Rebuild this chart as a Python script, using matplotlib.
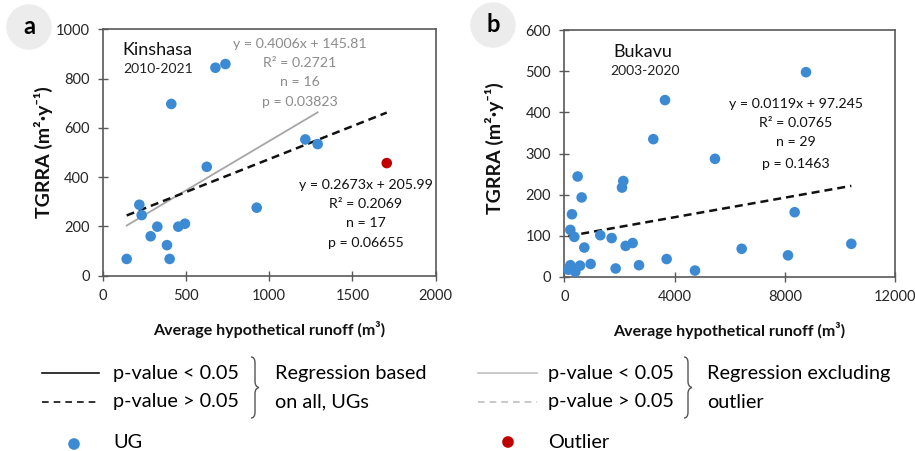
import matplotlib
matplotlib.use("Agg")
import matplotlib.pyplot as plt
from matplotlib.path import Path
from matplotlib.patches import PathPatch, Circle
import numpy as np

plt.rcParams['font.family'] = ['Lato', 'DejaVu Sans']

# ---------------- data ----------------
# Kinshasa (2010-2021): UG points
kin_x = [144, 220, 234, 288, 328, 386, 402, 412, 454, 494, 625, 677, 737, 925, 1217, 1291]
kin_y = [68, 288, 246, 160, 199, 124, 68, 697, 199, 211, 442, 844, 859, 276, 553, 534]
# Kinshasa outlier
kin_out_x = [1706]
kin_out_y = [457]
# regressions (slope, intercept) as labelled
kin_all_fit = (0.2673, 205.99)     # all points, p > 0.05
kin_excl_fit = (0.4006, 145.81)    # excluding outlier, p < 0.05

# Bukavu (2003-2020)
buk_x = [8770, 3653, 3230, 5468, 484, 2141, 2093, 629, 278, 8359, 218, 363, 1306, 1718,
         2226, 2480, 726, 6436, 10415, 8117, 3714, 956, 2710, 1863, 4742,
         150, 220, 400, 570]
buk_y = [498, 430, 335, 287, 244, 233, 217, 193, 152, 157, 114, 97, 101, 94,
         75, 82, 71, 68, 80, 52, 43, 31, 28, 20, 15,
         17, 28, 12, 27]
buk_fit = (0.0119, 97.245)

kin_ticks_x = [0, 500, 1000, 1500, 2000]
kin_ticks_y = [0, 200, 400, 600, 800, 1000]
buk_ticks_x = [0, 4000, 8000, 12000]
buk_ticks_y = [0, 100, 200, 300, 400, 500, 600]

BLUE = '#3b8ad3'
RED = '#c00000'
GRAY = '#a6a6a6'
TXTGRAY = '#8c8c8c'
SPINE = '#595959'
TICKC = '#262626'

W, H = 915, 451
fig = plt.figure(figsize=(W / 100, H / 100), dpi=100)

def px_axes(l, r, t, b):
    return fig.add_axes([l / W, 1 - b / H, (r - l) / W, (b - t) / H])

axa = px_axes(102.7, 435.7, 29.3, 275.7)
axb = px_axes(564.3, 895.0, 30.3, 276.7)

def style(ax, xt, yt):
    ax.set_xlim(xt[0], xt[-1])
    ax.set_ylim(yt[0], yt[-1])
    ax.set_xticks(xt)
    ax.set_yticks(yt)
    for s in ax.spines.values():
        s.set_color(SPINE)
        s.set_linewidth(1.2)
    ax.tick_params(direction='inout', length=7, width=1.0, color=SPINE,
                   labelsize=10.5, labelcolor=TICKC)
    ax.tick_params(axis='x', pad=6)
    ax.tick_params(axis='y', pad=6)
    ax.set_xlabel('Average hypothetical runoff (m³)', fontsize=11.5, fontweight='bold',
                  color='#111111')
    ax.set_ylabel('TGRRA (m²·y⁻¹)', fontsize=14, fontweight='bold', color='#111111')

style(axa, kin_ticks_x, kin_ticks_y)
style(axb, buk_ticks_x, buk_ticks_y)
axa.xaxis.set_label_coords(0.5, -0.22)
axb.xaxis.set_label_coords(0.5, -0.22)
axa.xaxis.label.set_va('center')
axb.xaxis.label.set_va('center')
axa.yaxis.set_label_coords(-0.179, 0.5)
axb.yaxis.set_label_coords(-0.21, 0.52)
axa.yaxis.label.set_va('center')
axb.yaxis.label.set_va('center')

MS = 58

# ---- panel a ----
all_x = kin_x + kin_out_x
xs = np.array([min(all_x), max(all_x)])
axa.plot(xs, kin_all_fit[0] * xs + kin_all_fit[1], color='#111111', lw=1.8,
         dashes=(3.2, 2.0), zorder=3)
xs2 = np.array([min(kin_x), max(kin_x)])
axa.plot(xs2, kin_excl_fit[0] * xs2 + kin_excl_fit[1], color=GRAY, lw=1.3, zorder=2)
axa.scatter(kin_x, kin_y, s=MS, color=BLUE, edgecolors='none', zorder=4)
axa.scatter(kin_out_x, kin_out_y, s=MS, color=RED, edgecolors='none', zorder=4)

def px_text(x, y, s, **kw):
    # x, y in figure pixels
    fig.text(x / W, 1 - y / H, s, **kw)

EQ = 10.2
px_text(122, 50, 'Kinshasa', fontsize=13, ha='left', va='center', color='#111111')
px_text(123, 69, '2010-2021', fontsize=10, ha='left', va='center', color='#222222')
for i, s in enumerate(['y = 0.4006x + 145.81', 'R² = 0.2721', 'n = 16', 'p = 0.03823']):
    px_text(300, [44, 63, 82, 102][i], s, fontsize=EQ, ha='center', va='center',
            color=TXTGRAY)
for i, s in enumerate(['y = 0.2673x + 205.99', 'R² = 0.2069', 'n = 17', 'p = 0.06655']):
    px_text(366, [185, 204, 223, 243][i], s, fontsize=EQ, ha='center', va='center',
            color='#111111')

# ---- panel b ----
xb = np.array([min(buk_x), max(buk_x)])
axb.plot(xb, buk_fit[0] * xb + buk_fit[1], color='#111111', lw=1.8, dashes=(3.2, 2.0), zorder=3)
axb.scatter(buk_x, buk_y, s=MS, color=BLUE, edgecolors='none', zorder=4)
px_text(643, 52, 'Bukavu', fontsize=13, ha='center', va='center', color='#111111')
px_text(645, 71, '2003-2020', fontsize=10, ha='center', va='center', color='#222222')
for i, s in enumerate(['y = 0.0119x + 97.245', 'R² = 0.0765', 'n = 29', 'p = 0.1463']):
    px_text(796, [104, 123, 142, 164][i], s, fontsize=EQ, ha='center', va='center',
            color='#111111')

# ---- overlay for panel letters and legend ----
ov = fig.add_axes([0, 0, 1, 1], zorder=10)
ov.set_xlim(0, W)
ov.set_ylim(H, 0)
ov.axis('off')

for cx, cy, lab in [(29, 27, 'a'), (493, 25, 'b')]:
    ov.add_patch(Circle((cx, cy), 22, color='#ececec', zorder=1))
    ov.text(cx, cy, lab, fontsize=17, fontweight='bold', ha='center', va='center', zorder=2)

def brace(x, y0, y1):
    ym = (y0 + y1) / 2
    top = Path([(x - 3, y0), (x + 1, y0), (x + 1, y0 + 6), (x + 1, ym - 6),
                (x + 1, ym - 1), (x + 5, ym)],
               [Path.MOVETO, Path.CURVE3, Path.CURVE3, Path.LINETO, Path.CURVE3, Path.CURVE3])
    bot = Path([(x + 5, ym), (x + 1, ym + 1), (x + 1, ym + 6), (x + 1, y1 - 6),
                (x + 1, y1), (x - 3, y1)],
               [Path.MOVETO, Path.CURVE3, Path.CURVE3, Path.LINETO, Path.CURVE3, Path.CURVE3])
    for p in (top, bot):
        ov.add_patch(PathPatch(p, fill=False, lw=1.0, edgecolor='#555555'))

LFS = 14.3
r1, r2, r3 = 373, 402, 442
# left legend
ov.plot([42, 99], [r1, r1], color='#111111', lw=1.2)
ov.plot([42, 99], [r2, r2], color='#111111', lw=1.2, dashes=(4, 3))
ov.text(113, r1, 'p-value < 0.05', fontsize=LFS, va='center', ha='left')
ov.text(113, r2, 'p-value > 0.05', fontsize=LFS, va='center', ha='left')
brace(254, 357, 418)
ov.text(275, r1, 'Regression based', fontsize=LFS, va='center', ha='left')
ov.text(275, r2, 'on all, UGs', fontsize=LFS, va='center', ha='left')
ov.scatter([74], [444], s=70, color=BLUE, edgecolors='none')
ov.text(113, r3, 'UG', fontsize=LFS, va='center', ha='left')
# right legend
ov.plot([478, 537], [r1, r1], color='#bfbfbf', lw=1.2)
ov.plot([478, 537], [r2, r2], color='#bfbfbf', lw=1.2, dashes=(4, 3))
ov.text(548, r1, 'p-value < 0.05', fontsize=LFS, va='center', ha='left')
ov.text(548, r2, 'p-value > 0.05', fontsize=LFS, va='center', ha='left')
brace(687, 357, 418)
ov.text(707, r1, 'Regression excluding', fontsize=LFS, va='center', ha='left')
ov.text(707, r2, 'outlier', fontsize=LFS, va='center', ha='left')
ov.scatter([508], [442], s=70, color=RED, edgecolors='none')
ov.text(548, r3, 'Outlier', fontsize=LFS, va='center', ha='left')

fig.savefig('out.png', dpi=100)
